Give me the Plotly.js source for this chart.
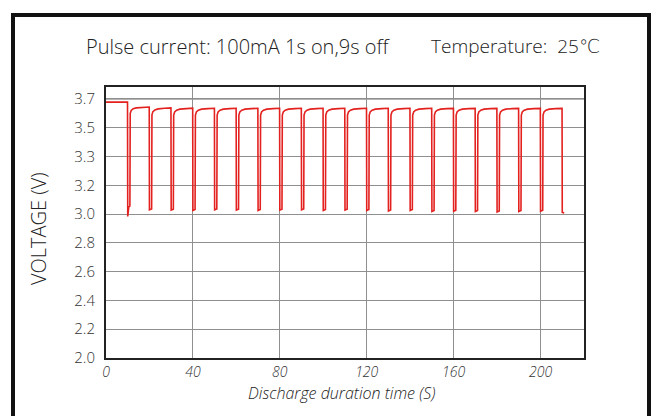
<!DOCTYPE html>
<html>
<head>
<meta charset="utf-8">
<script src="https://cdn.plot.ly/plotly-3.0.1.min.js"></script>
<style>html,body{margin:0;padding:0;background:#fff;}#chart{width:652px;height:416px;}</style>
</head>
<body>
<div id="chart"></div>
<script>
// Data (voltage in evenly spaced axis units)
const time = [
  0, 9.9,
  10.0, 10.3, 10.5, 11.0, 11.15, 11.6, 12.5, 14, 17, 19.9,
  20.0, 20.5, 21.0, 21.15, 21.6, 22.5, 24, 27, 29.9,
  30.0, 30.5, 31.0, 31.15, 31.6, 32.5, 34, 37, 39.9,
  40.0, 40.5, 41.0, 41.15, 41.6, 42.5, 44, 47, 49.9,
  50.0, 50.5, 51.0, 51.15, 51.6, 52.5, 54, 57, 59.9,
  60.0, 60.5, 61.0, 61.15, 61.6, 62.5, 64, 67, 69.9,
  70.0, 70.5, 71.0, 71.15, 71.6, 72.5, 74, 77, 79.9,
  80.0, 80.5, 81.0, 81.15, 81.6, 82.5, 84, 87, 89.9,
  90.0, 90.5, 91.0, 91.15, 91.6, 92.5, 94, 97, 99.9,
  100.0, 100.5, 101.0, 101.15, 101.6, 102.5, 104, 107, 109.9,
  110.0, 110.5, 111.0, 111.15, 111.6, 112.5, 114, 117, 119.9,
  120.0, 120.5, 121.0, 121.15, 121.6, 122.5, 124, 127, 129.9,
  130.0, 130.5, 131.0, 131.15, 131.6, 132.5, 134, 137, 139.9,
  140.0, 140.5, 141.0, 141.15, 141.6, 142.5, 144, 147, 149.9,
  150.0, 150.5, 151.0, 151.15, 151.6, 152.5, 154, 157, 159.9,
  160.0, 160.5, 161.0, 161.15, 161.6, 162.5, 164, 167, 169.9,
  170.0, 170.5, 171.0, 171.15, 171.6, 172.5, 174, 177, 179.9,
  180.0, 180.5, 181.0, 181.15, 181.6, 182.5, 184, 187, 189.9,
  190.0, 190.5, 191.0, 191.15, 191.6, 192.5, 194, 197, 199.9,
  200.0, 200.5, 201.0, 201.15, 201.6, 202.5, 204, 207, 209.9,
  210.0, 210.5, 210.9
];
const voltage = [
  3.778, 3.778,
  2.983, 3.030, 3.050, 3.055, 3.700, 3.720, 3.732, 3.738, 3.741, 3.744,
  3.030, 3.034, 3.036, 3.690, 3.712, 3.724, 3.731, 3.735, 3.738,
  3.028, 3.032, 3.034, 3.688, 3.710, 3.722, 3.729, 3.733, 3.736,
  3.025, 3.030, 3.032, 3.688, 3.710, 3.722, 3.729, 3.733, 3.735,
  3.030, 3.034, 3.036, 3.688, 3.710, 3.722, 3.729, 3.733, 3.735,
  3.028, 3.032, 3.034, 3.688, 3.710, 3.722, 3.729, 3.733, 3.735,
  3.025, 3.030, 3.032, 3.688, 3.710, 3.722, 3.729, 3.733, 3.735,
  3.027, 3.031, 3.033, 3.688, 3.710, 3.722, 3.729, 3.733, 3.735,
  3.030, 3.034, 3.036, 3.688, 3.710, 3.722, 3.729, 3.733, 3.735,
  3.025, 3.030, 3.032, 3.688, 3.710, 3.722, 3.729, 3.733, 3.735,
  3.028, 3.032, 3.034, 3.688, 3.710, 3.722, 3.729, 3.733, 3.735,
  3.025, 3.030, 3.032, 3.688, 3.710, 3.722, 3.729, 3.733, 3.735,
  3.022, 3.027, 3.029, 3.688, 3.710, 3.722, 3.729, 3.733, 3.735,
  3.025, 3.030, 3.032, 3.688, 3.710, 3.722, 3.729, 3.733, 3.735,
  3.018, 3.023, 3.025, 3.688, 3.710, 3.722, 3.729, 3.733, 3.734,
  3.020, 3.025, 3.027, 3.688, 3.710, 3.722, 3.729, 3.733, 3.734,
  3.018, 3.023, 3.025, 3.688, 3.710, 3.722, 3.729, 3.733, 3.734,
  3.015, 3.020, 3.022, 3.688, 3.710, 3.722, 3.729, 3.733, 3.734,
  3.018, 3.023, 3.025, 3.688, 3.710, 3.722, 3.729, 3.733, 3.734,
  3.020, 3.025, 3.027, 3.688, 3.710, 3.722, 3.729, 3.733, 3.734,
  3.012, 3.010, 3.008
];
const yTickVals = [2.0, 2.2, 2.4, 2.6, 2.8, 3.0, 3.2, 3.4, 3.6, 3.8];
const yTickText = ['2.0', '2.2', '2.4', '2.6', '2.8', '3.0', '3.2', '3.3', '3.5', '3.7'];
const xTickVals = [0, 40, 80, 120, 160, 200];
const xTickText = ['0', '40', '80', '120', '160', '200'];
const titleLeft = 'Pulse current: 100mA 1s on,9s off';
const titleRight = 'Temperature:  25\u2103';
const xTitle = 'Discharge duration time (S)';
const yTitle = 'VOLTAGE (V)';

// layout geometry (pixels)
const W = 652, H = 416, L = 106, R = 584, T = 87, B = 358;
const pw = R - L, ph = B - T;
const px = v => (v - L) / pw;
const py = v => (B - v) / ph;
const FONT = 'Open Sans, DejaVu Sans, sans-serif';

const trace = {
  x: time, y: voltage, type: 'scatter', mode: 'lines',
  line: {color: '#e3211f', width: 1.6, shape: 'linear'},
  hoverinfo: 'skip', showlegend: false
};

const layout = {
  width: W, height: H,
  margin: {l: L, r: W - R, t: T, b: H - B, pad: 0},
  paper_bgcolor: '#ffffff', plot_bgcolor: '#ffffff',
  showlegend: false,
  xaxis: {
    range: [0, 220], tickvals: xTickVals, ticktext: xTickText,
    showgrid: true, gridcolor: '#8f8f8f', gridwidth: 1,
    zeroline: false, showline: true, linecolor: '#222', linewidth: 2, mirror: true,
    ticks: '', ticklabelstandoff: 0,
    tickfont: {family: FONT, size: 14, color: '#333', style: 'italic', weight: 300}
  },
  yaxis: {
    range: [2.0, 3.883], tickvals: yTickVals, ticktext: yTickText,
    showgrid: true, gridcolor: '#8f8f8f', gridwidth: 1,
    zeroline: false, showline: true, linecolor: '#222', linewidth: 2, mirror: true,
    ticks: '', ticklabelstandoff: 6,
    tickfont: {family: FONT, size: 15, color: '#333', weight: 300}
  },
  annotations: [
    {text: titleLeft, xref: 'paper', yref: 'paper', x: px(84), y: py(46), xanchor: 'left', yanchor: 'middle', showarrow: false, font: {family: FONT, size: 20, color: '#222', weight: 300}},
    {text: titleRight, xref: 'paper', yref: 'paper', x: px(429), y: py(46), xanchor: 'left', yanchor: 'middle', showarrow: false, font: {family: FONT, size: 19, color: '#222', weight: 300}},
    {text: xTitle, xref: 'paper', yref: 'paper', x: px(341), y: py(393), xanchor: 'center', yanchor: 'middle', showarrow: false, font: {family: FONT, size: 16, color: '#222', style: 'italic', weight: 300}},
    {text: yTitle, xref: 'paper', yref: 'paper', x: px(38), y: py(229), xanchor: 'center', yanchor: 'middle', textangle: -90, showarrow: false, font: {family: FONT, size: 20, color: '#222', weight: 300}}
  ],
  shapes: [
    {type: 'line', xref: 'paper', yref: 'y', x0: 0, x1: 1, y0: 3.8, y1: 3.8, line: {color: '#b3b3b3', width: 2}, layer: 'below'},
    {type: 'rect', xref: 'paper', yref: 'paper', x0: px(13), x1: px(649), y0: py(440), y1: py(15), line: {color: '#111', width: 4}, fillcolor: 'rgba(0,0,0,0)', layer: 'above'}
  ]
};

Plotly.newPlot('chart', [trace], layout, {displayModeBar: false, staticPlot: true});
</script>
</body>
</html>
